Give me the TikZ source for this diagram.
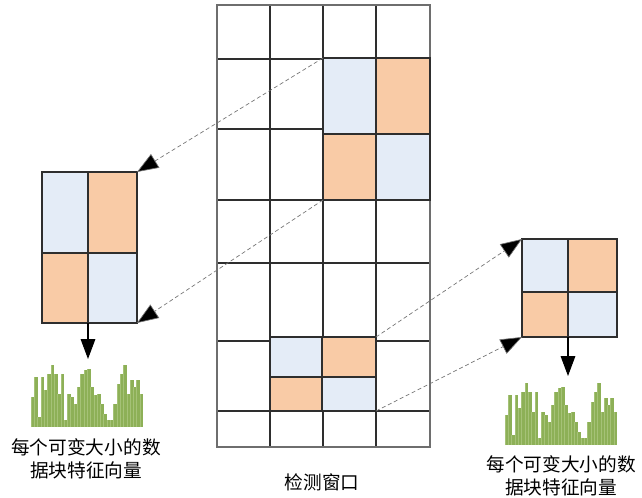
\documentclass[tikz,border=0pt]{standalone}
\usepackage{fontspec}
\newfontfamily\cjk{Noto Sans CJK SC}
\usetikzlibrary{arrows.meta}
\definecolor{cblue}{HTML}{E4ECF7}
\definecolor{corange}{HTML}{F9CBA6}
\definecolor{cgreen}{HTML}{8DB057}
\definecolor{cgreenl}{HTML}{A5C277}
\definecolor{gridc}{HTML}{2E2E2E}
\definecolor{outerc}{HTML}{6E6E6E}
\tikzset{
  gridline/.style={draw=gridc, line width=0.9pt},
  outerline/.style={draw=outerc, line width=1pt},
  bluecell/.style={fill=cblue, draw=gridc, line width=0.9pt},
  orangecell/.style={fill=corange, draw=gridc, line width=0.9pt},
  dashconn/.style={draw=gray!90!black, dash pattern=on 3pt off 2pt, line width=0.5pt,
    -{Triangle[length=16pt,width=12pt,fill=black]}},
  downarrow/.style={draw=black, line width=0.8pt, -{Triangle[length=15pt,width=11pt]}},
  lbl/.style={font=\cjk\fontsize{14}{17}\selectfont, align=center, inner sep=0pt},
}
\newcommand{\histo}[3]{% x0, base y, bar width
  \foreach \h [count=\i] in {30,50,10,50,37,53,62,53,33,53,7,33,30,23,40,53,57,58,40,32,33,23,13,7,7,23,43,53,62,33,47,40,47,33}{
    \fill[cgreen] ({#1+(\i-1)*#3},#2) rectangle ++(#3+0.2,-\h);
    \draw[cgreenl, line width=0.25pt] ({#1+(\i-1)*#3},#2) -- ++(0,-\h);
  }
}
\begin{document}
\begin{tikzpicture}[x=0.75pt,y=-0.75pt]
\useasboundingbox (0,0) rectangle (642,497);
\fill[white] (0,0) rectangle (642,497);

% ---- detection window grid ----
\foreach \y in {59,129,200,263,341,411}{
  \draw[gridline] (217,\y) -- (430,\y);
}
\foreach \x in {270,323,376}{
  \draw[gridline] (\x,5) -- (\x,447);
}
\draw[outerline] (217,5) rectangle (430,447);

% ---- upper block in grid ----
\path[bluecell]   (323,58)  rectangle (376,134);
\path[orangecell] (376,58)  rectangle (430,134);
\path[orangecell] (323,134) rectangle (376,200);
\path[bluecell]   (376,134) rectangle (430,200);
\coordinate (UTL) at (323,58);
\coordinate (UBL) at (323,200);

% ---- lower block in grid ----
\path[bluecell]   (270,337) rectangle (322,377);
\path[orangecell] (322,337) rectangle (376,377);
\path[orangecell] (270,377) rectangle (322,411);
\path[bluecell]   (322,377) rectangle (376,411);
\coordinate (LTR) at (376,337);
\coordinate (LBR) at (376,411);

% ---- left enlarged block ----
\path[bluecell]   (42,172)  rectangle (88,253);
\path[orangecell] (88,172)  rectangle (137,253);
\path[orangecell] (42,253)  rectangle (88,323);
\path[bluecell]   (88,253)  rectangle (137,323);
\coordinate (ATR) at (137,172);
\coordinate (ABR) at (137,323);
\coordinate (ABM) at (88,323);
\coordinate (AHT) at (88,359);

% ---- right enlarged block ----
\path[bluecell]   (522,239) rectangle (568,292);
\path[orangecell] (568,239) rectangle (617,292);
\path[orangecell] (522,292) rectangle (568,337);
\path[bluecell]   (568,292) rectangle (617,337);
\coordinate (BTL) at (522,239);
\coordinate (BBL) at (522,337);
\coordinate (BBM) at (568,337);
\coordinate (BHT) at (568,376);

% ---- connectors ----
\draw[dashconn] (UTL) -- (ATR);
\draw[dashconn] (UBL) -- (ABR);
\draw[dashconn] (LTR) -- (BTL);
\draw[dashconn] (LBR) -- (BBL);
\draw[downarrow] (ABM) -- (AHT);
\draw[downarrow] (BBM) -- (BHT);

% ---- histograms ----
\histo{31}{427}{3.3}
\histo{505}{445}{3.3}

% ---- labels ----
\node[lbl] (lblA) at (86,459) {每个可变大小的数\\据块特征向量};
\node[lbl] (lblB) at (561,476) {每个可变大小的数\\据块特征向量};
\node[lbl] (lblW) at (322,482) {检测窗口};
\end{tikzpicture}
\end{document}
